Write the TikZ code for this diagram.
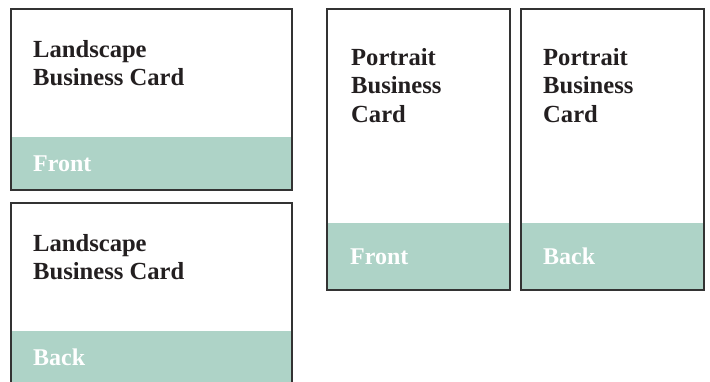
\documentclass[tikz,border=0pt]{standalone}
\usepackage{fontspec}
\setmainfont{Liberation Serif}
\usepackage{tikz}
\usetikzlibrary{positioning, backgrounds}
\definecolor{cardline}{HTML}{333333}
\definecolor{bandgreen}{HTML}{AED3C7}
\definecolor{inkdark}{HTML}{231F20}
\tikzstyle{landcard} = [rectangle, draw=cardline, line width=1.8pt, minimum width=281pt, minimum height=181pt, inner sep=0pt, outer sep=0pt]
\tikzstyle{portcard} = [rectangle, draw=cardline, line width=1.8pt, minimum width=183pt, minimum height=281pt, inner sep=0pt, outer sep=0pt]
\tikzstyle{band}     = [rectangle, fill=bandgreen, inner sep=0pt, anchor=south west]
\tikzstyle{title}    = [anchor=north west, align=left, inner sep=0pt, text=inkdark, font=\bfseries\fontsize{24.6}{28.5}\selectfont]
\tikzstyle{side}     = [anchor=west, inner sep=0pt, text=white, font=\bfseries\fontsize{24}{28.5}\selectfont]

\begin{document}
\begin{tikzpicture}[x=1pt, y=-1pt]
  \useasboundingbox (0,0) rectangle (710,381);

  % cards
  \node[landcard, anchor=north west] (lf) at (11,9) {};
  \node[landcard, below=13pt of lf]  (lb) {};
  \node[portcard, right=35pt of lf.north east, anchor=north west] (pf) {};
  \node[portcard, right=11pt of pf] (pb) {};

  % green strips
  \begin{scope}[on background layer]
    \node[band, minimum width=281pt, minimum height=53pt] (lfband) at (lf.south west) {};
    \node[band, minimum width=281pt, minimum height=53pt] (lbband) at (lb.south west) {};
    \node[band, minimum width=183pt, minimum height=67pt] (pfband) at (pf.south west) {};
    \node[band, minimum width=183pt, minimum height=67pt] (pbband) at (pb.south west) {};
  \end{scope}

  % texts
  \node[title] (lftitle) at ([shift={(22,31)}]lf.north west) {Landscape\\Business Card};
  \node[title] (lbtitle) at ([shift={(22,31)}]lb.north west) {Landscape\\Business Card};
  \node[title] (pftitle) at ([shift={(24,39)}]pf.north west) {Portrait\\Business\\Card};
  \node[title] (pbtitle) at ([shift={(22,39)}]pb.north west) {Portrait\\Business\\Card};

  \node[side] (lflabel) at ([xshift=22pt]lfband.west) {Front};
  \node[side] (lblabel) at ([xshift=22pt]lbband.west) {Back};
  \node[side] (pflabel) at ([xshift=23pt]pfband.west) {Front};
  \node[side] (pblabel) at ([xshift=22pt]pbband.west) {Back};
\end{tikzpicture}
\end{document}
